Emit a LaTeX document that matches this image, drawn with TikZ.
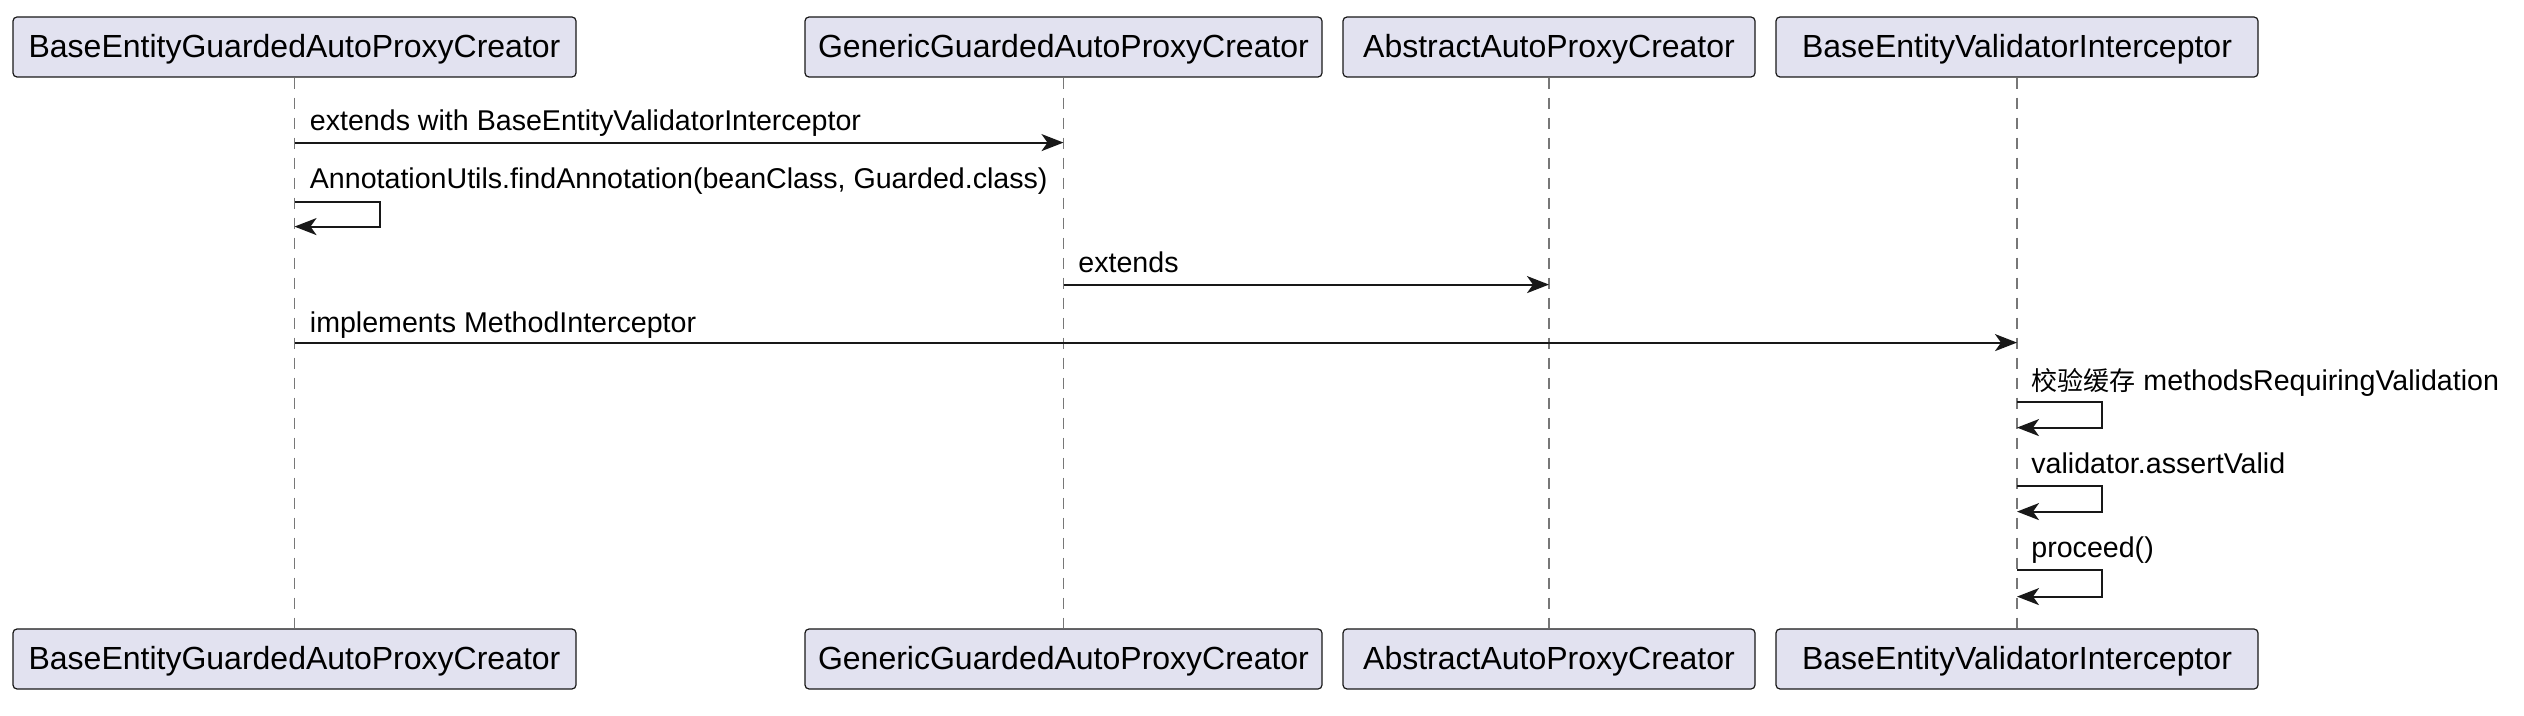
\documentclass[tikz,border=0pt]{standalone}
\usepackage{fontspec}
\setmainfont{Liberation Sans}
\newfontfamily\cjk[Scale=0.91]{Noto Sans CJK SC}
\usetikzlibrary{arrows.meta}
\definecolor{partfill}{HTML}{E2E2F0}
\definecolor{partline}{HTML}{181818}
\definecolor{lifecol}{HTML}{777777}
\begin{document}
\begin{tikzpicture}[x=0.5pt,y=-0.5pt,
  part/.style={draw=partline, fill=partfill, line width=0.6pt, rounded corners=2pt,
    minimum height=30pt, inner sep=0pt, text=black, text depth=1.5pt,
    font=\fontsize{16pt}{19pt}\selectfont},
  lifeline/.style={draw=lifecol, line width=0.8pt, dash pattern=on 5.5pt off 4.5pt},
  msg/.style={draw=partline, line width=1pt,
    -{Stealth[length=11pt,width=8.5pt,inset=3pt]}},
  lbl/.style={anchor=base west, inner sep=0pt, text=black,
    font=\fontsize{14.3pt}{17pt}\selectfont}]
\useasboundingbox (0,0) rectangle (2524,716);

% participants (top)
\node[part, minimum width=281.5pt] (t1) at (294.5,47) {BaseEntityGuardedAutoProxyCreator};
\node[part, minimum width=258.5pt] (t2) at (1063.5,47) {GenericGuardedAutoProxyCreator};
\node[part, minimum width=206pt]   (t3) at (1549,47) {AbstractAutoProxyCreator};
\node[part, minimum width=241pt]   (t4) at (2017,47) {BaseEntityValidatorInterceptor};
% participants (bottom)
\node[part, minimum width=281.5pt] (b1) at (294.5,659) {BaseEntityGuardedAutoProxyCreator};
\node[part, minimum width=258.5pt] (b2) at (1063.5,659) {GenericGuardedAutoProxyCreator};
\node[part, minimum width=206pt]   (b3) at (1549,659) {AbstractAutoProxyCreator};
\node[part, minimum width=241pt]   (b4) at (2017,659) {BaseEntityValidatorInterceptor};

% lifelines
\draw[lifeline] (t1.south) -- (b1.north);
\draw[lifeline] (t2.south) -- (b2.north);
\draw[lifeline] (t3.south) -- (b3.north);
\draw[lifeline] (t4.south) -- (b4.north);

% message anchor points on lifelines
\path (t1.south) ++(0,65)  coordinate (m1a);
\path (t2.south) ++(0,65)  coordinate (m1b);
\path (t1.south) ++(0,124) coordinate (m2a);
\path (t1.south) ++(0,149) coordinate (m2b);
\path (t2.south) ++(0,207) coordinate (m3a);
\path (t3.south) ++(0,207) coordinate (m3b);
\path (t1.south) ++(0,265) coordinate (m4a);
\path (t4.south) ++(0,265) coordinate (m4b);
\path (t4.south) ++(0,324) coordinate (m5a);
\path (t4.south) ++(0,350) coordinate (m5b);
\path (t4.south) ++(0,408) coordinate (m6a);
\path (t4.south) ++(0,434) coordinate (m6b);
\path (t4.south) ++(0,492) coordinate (m7a);
\path (t4.south) ++(0,519) coordinate (m7b);

% messages
\draw[msg] (m1a) -- (m1b);
\node[lbl] (l1) at (309.5,131) {extends with BaseEntityValidatorInterceptor};

\draw[msg] (m2a) -- ++(85,0) |- (m2b);
\node[lbl] (l2) at (309.5,189) {AnnotationUtils.findAnnotation(beanClass, Guarded.class)};

\draw[msg] (m3a) -- (m3b);
\node[lbl] (l3) at (1078,273) {extends};

\draw[msg] (m4a) -- (m4b);
\node[lbl] (l4) at (309.5,333) {implements MethodInterceptor};

\draw[msg] (m5a) -- ++(85,0) |- (m5b);
\node[lbl] (l5) at (2031,391) {{\cjk 校验缓存} methodsRequiringValidation};

\draw[msg] (m6a) -- ++(85,0) |- (m6b);
\node[lbl] (l6) at (2031,474) {validator.assertValid};

\draw[msg] (m7a) -- ++(85,0) |- (m7b);
\node[lbl] (l7) at (2031,558) {proceed()};
\end{tikzpicture}
\end{document}
